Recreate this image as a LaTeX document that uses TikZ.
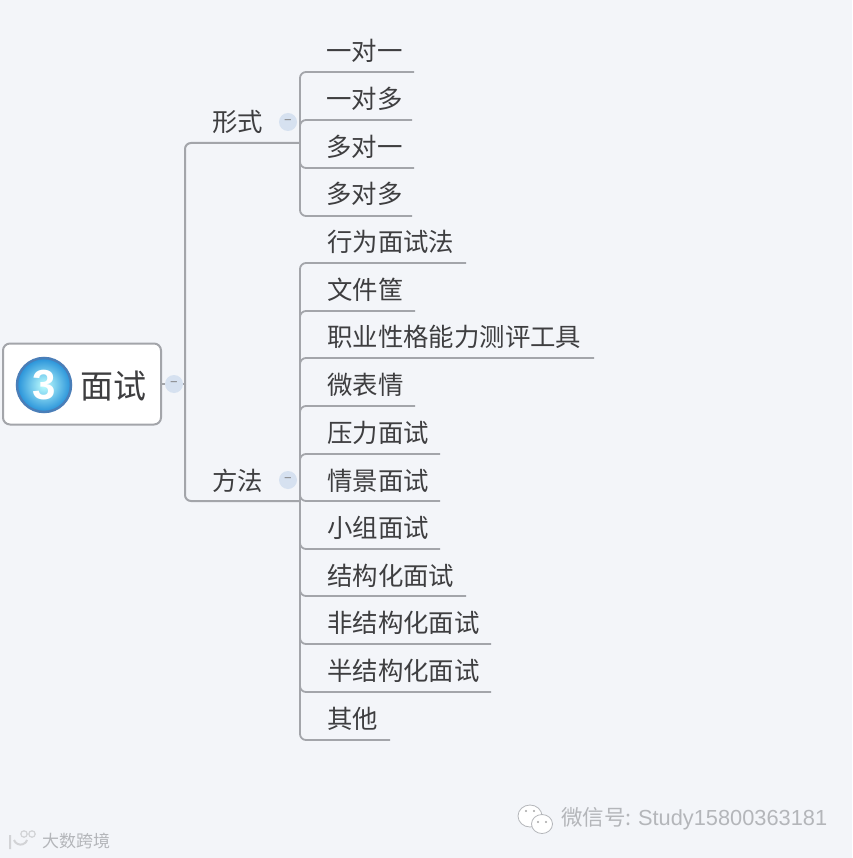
\documentclass[tikz,border=0pt]{standalone}
\usepackage{fontspec}
\setmainfont{Liberation Sans}
\newfontfamily\cjk{Noto Sans CJK SC}
\definecolor{bgc}{HTML}{F3F5F9}
\definecolor{linec}{HTML}{A3A5AA}
\definecolor{txtc}{HTML}{3E3E40}
\definecolor{wmc}{HTML}{B4B6BA}
\definecolor{foldc}{HTML}{D6E1F0}
\begin{document}
\begin{tikzpicture}[x=1pt,y=-1pt,
  branch/.style={draw=linec,line width=1.8pt,rounded corners=6pt},
  leaf/.style={anchor=west,inner sep=0pt,text=txtc,font=\cjk\fontsize{25.4}{25.4}\selectfont},
  topic/.style={anchor=west,inner sep=0pt,text=txtc,font=\cjk\fontsize{25.4}{25.4}\selectfont},
  fold/.style={circle,draw=none,fill=foldc,minimum size=18pt,inner sep=0pt,text=gray,font=\fontsize{13}{13}\selectfont},
  wm/.style={inner sep=0pt,anchor=west,text=wmc,font=\cjk\fontsize{21.5}{21.5}\selectfont}
]
\useasboundingbox[fill=bgc] (0,0) rectangle (852,858);

% root
\node[draw=linec,line width=2pt,fill=white,rounded corners=7pt,minimum width=158pt,minimum height=81pt,inner sep=0pt] (root) at (82,384) {};
\node[circle,minimum size=54pt,inner sep=0pt,draw=cyan!55!blue!70!gray,line width=2.5pt,inner color=cyan!25!white,outer color=cyan!60!blue!70!gray,text=white,font=\bfseries\fontsize{42}{42}\selectfont] (icon) at (44,385) {3};
\node[anchor=west,inner sep=0pt,text=txtc,font=\cjk\fontsize{33}{33}\selectfont] (roottext) at (80,386) {面试};

% main topics
\coordinate (j1) at (300,143);
\coordinate (j2) at (300,501);
\coordinate (spine) at (185,384);
\node[topic] (xs) at (212,122) {形式};
\node[topic] (ff) at (212,481) {方法};
\draw[branch,line width=2pt] (spine) |- (j1);
\draw[branch,line width=2pt] (spine) |- (j2);
\draw[branch,line width=1.4pt] (root.east) -- (spine);
\node[fold] (f0) at (174,384) {−};
\node[fold] (f1) at (288,122) {−};
\node[fold] (f2) at (288,480) {−};

% leaves of xingshi
\node[leaf] (a1) at (326,51) {一对一};   \coordinate (ae1) at (414,72);
\node[leaf] (a2) at (326,99) {一对多};   \coordinate (ae2) at (412,120);
\node[leaf] (a3) at (326,147) {多对一};  \coordinate (ae3) at (414,168);
\node[leaf] (a4) at (326,194) {多对多};  \coordinate (ae4) at (412,216);
\foreach \i in {1,...,4} \draw[branch] (j1) |- (ae\i);

% leaves of fangfa
\node[leaf] (b1) at (327,242) {行为面试法};            \coordinate (be1) at (466,263);
\node[leaf] (b2) at (327,290) {文件筐};                \coordinate (be2) at (415,311);
\node[leaf] (b3) at (327,337) {职业性格能力测评工具};  \coordinate (be3) at (594,358);
\node[leaf] (b4) at (327,385) {微表情};                \coordinate (be4) at (415,406);
\node[leaf] (b5) at (327,433) {压力面试};              \coordinate (be5) at (440,454);
\node[leaf] (b6) at (327,481) {情景面试};              \coordinate (be6) at (440,501);
\node[leaf] (b7) at (327,528) {小组面试};              \coordinate (be7) at (440,549);
\node[leaf] (b8) at (327,576) {结构化面试};            \coordinate (be8) at (466,596);
\node[leaf] (b9) at (327,623) {非结构化面试};          \coordinate (be9) at (491,644);
\node[leaf] (b10) at (327,671) {半结构化面试};         \coordinate (be10) at (491,692);
\node[leaf] (b11) at (327,719) {其他};                 \coordinate (be11) at (390,740);
\foreach \i in {1,...,11} \draw[branch] (j2) |- (be\i);

% watermarks
\node[wm] (wx) at (561,819) {微信号: \fontspec{Liberation Sans}\fontsize{21.8}{21.8}\selectfont Study15800363181};
\node[wm,font=\cjk\fontsize{17}{17}\selectfont] (dskj) at (42,841) {大数跨境};
\begin{scope}[draw=wmc,fill=white,line width=.8pt]
  \filldraw (530,816) ellipse (12pt and 11pt);
  \filldraw (542,824) ellipse (10.5pt and 9.5pt);
\end{scope}
\fill[gray!70] (526,811) circle (1.1pt) (534,811) circle (1.1pt) (538,822) circle (1.1pt) (546,822) circle (1.1pt);
\draw[wmc!60!white,line width=2pt] (10,835) -- (10,849) (14,840) arc[start angle=200,end angle=340,radius=7pt];
\draw[wmc!60!white,line width=1.2pt] (24,834) circle (3.2pt) (32,834) circle (3.2pt);
\end{tikzpicture}
\end{document}
